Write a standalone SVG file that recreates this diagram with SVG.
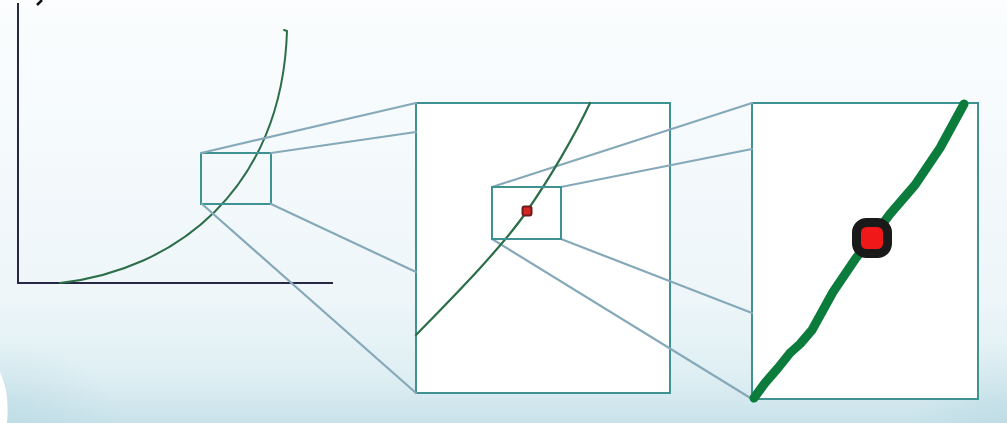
<svg xmlns="http://www.w3.org/2000/svg" width="1007" height="423" viewBox="0 0 1007 423">
  <defs>
    <linearGradient id="bg" x1="0" y1="0" x2="0" y2="1">
      <stop offset="0" stop-color="#fbfdfe"/>
      <stop offset="0.7" stop-color="#eef6f9"/>
      <stop offset="0.9" stop-color="#ddeef3"/>
      <stop offset="1" stop-color="#c8e2ea"/>
    </linearGradient>
    <radialGradient id="cornerL" cx="0" cy="1" r="1">
      <stop offset="0" stop-color="#b8d8e2" stop-opacity="0.6"/>
      <stop offset="1" stop-color="#b8d8e2" stop-opacity="0"/>
    </radialGradient>
    <radialGradient id="cornerR" cx="1" cy="1" r="1">
      <stop offset="0" stop-color="#b8d8e2" stop-opacity="0.6"/>
      <stop offset="1" stop-color="#b8d8e2" stop-opacity="0"/>
    </radialGradient>
  </defs>
  <style>
    .frame { fill: #ffffff; stroke: #3f9292; stroke-width: 2; }
    .frame-open { fill: none; stroke: #3f9292; stroke-width: 2; }
    .conn { stroke: #86a9b9; stroke-width: 2.2; fill: none; stroke-linecap: round; }
    .axis { stroke: #262845; stroke-width: 2; fill: none; }
    .curve { stroke: #2b6e48; fill: none; stroke-linecap: round; stroke-linejoin: round; }
  </style>

  <rect x="0" y="0" width="1007" height="423" fill="url(#bg)"/>
  <rect x="0" y="343" width="120" height="80" fill="url(#cornerL)"/>
  <rect x="907" y="343" width="100" height="80" fill="url(#cornerR)"/>
  <path d="M0,372 C6,385 9,400 7,423 L0,423 Z" fill="#ffffff"/>
  <path d="M37,5 L42,0" stroke="#111111" stroke-width="2.5" fill="none"/>

  <g id="graph">
    <path class="axis" d="M18,3 L18,283 L333,283"/>
    <path class="curve" stroke-width="2" d="M60,283 C175,270 282,190 287,31 L284,30"/>
  </g>

  <g id="box1">
    <rect class="frame-open" x="201" y="153" width="70" height="51"/>
  </g>

  <g id="box2">
    <rect class="frame" x="416" y="103" width="254" height="290"/>
  </g>

  <g id="box3">
    <rect class="frame" x="752" y="103" width="226" height="296"/>
  </g>

  <g id="connectors">
    <line class="conn" x1="201" y1="153" x2="416" y2="103"/>
    <line class="conn" x1="271" y1="153" x2="416" y2="132"/>
    <line class="conn" x1="202" y1="204" x2="416" y2="393"/>
    <line class="conn" x1="271" y1="204" x2="416" y2="272"/>
    <line class="conn" x1="492" y1="187" x2="752" y2="103"/>
    <line class="conn" x1="561" y1="187" x2="752" y2="149"/>
    <line class="conn" x1="561" y1="239" x2="752" y2="313"/>
    <line class="conn" x1="492" y1="239" x2="752" y2="399"/>
  </g>

  <g id="box2-content">
    <path class="curve" stroke-width="2.2" d="M416,335 C450,300 500,250 527,211 C550,178 575,135 590,103"/>
    <rect id="box2-zoom" class="frame-open" x="492" y="187" width="69" height="52"/>
    <rect x="522.5" y="206.5" width="9" height="9" rx="2" fill="#d42525" stroke="#6e1c1c" stroke-width="2"/>
  </g>

  <g id="box3-content">
    <path d="M754,398 L765,383 L778,368 L790,353 L800,344 L812,330 L833,292 L856,258 L872,238 L890,214 L915,185 L940,148 L964,104" fill="none" stroke="#0c7c3d" stroke-width="9" stroke-linecap="round" stroke-linejoin="round"/>
    <rect x="856.5" y="222.5" width="31" height="31" rx="10" fill="#f01818" stroke="#1a1a1a" stroke-width="9"/>
  </g>
</svg>
